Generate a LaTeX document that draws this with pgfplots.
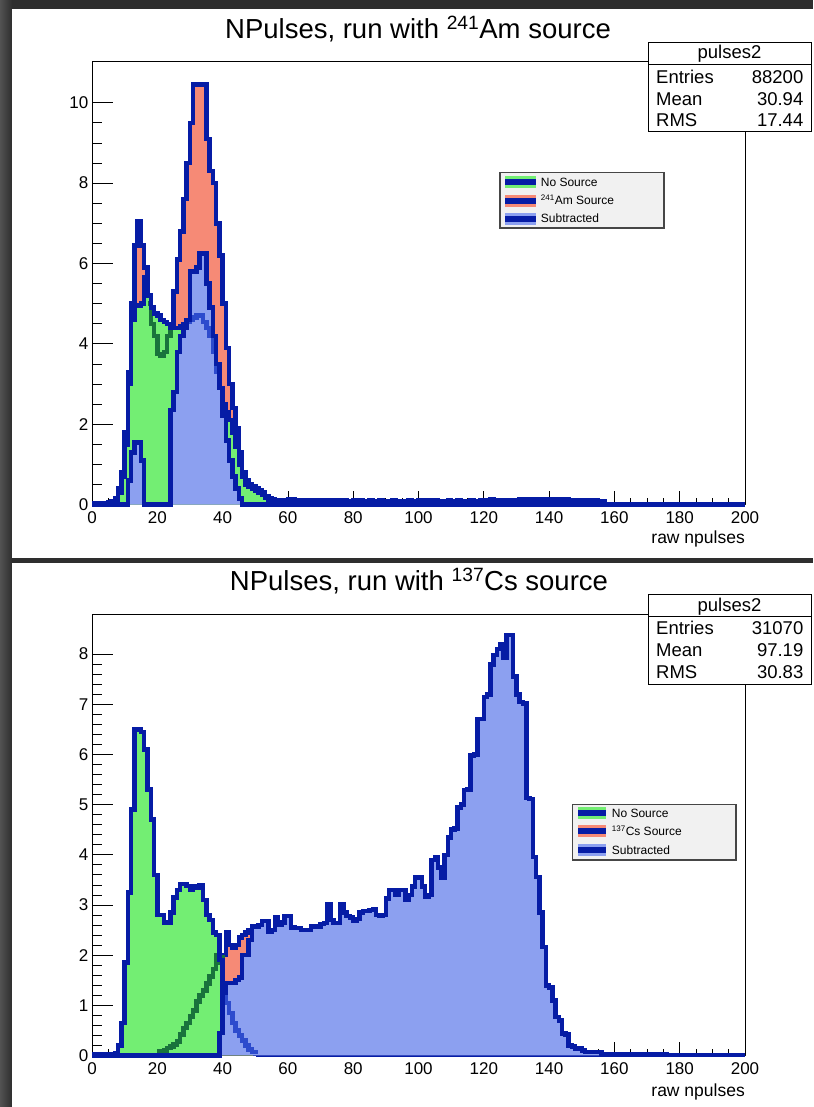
\documentclass[border=0pt]{standalone}
\usepackage{fontspec}
\setmainfont{Liberation Sans}
\usepackage{pgfplots}
\usepackage{pgfplotstable}
\pgfplotsset{compat=1.18}

\definecolor{hline}{RGB}{6,28,165}
\definecolor{nosrcc}{RGB}{115,238,115}
\definecolor{srcc}{RGB}{246,138,118}
\definecolor{subc}{RGB}{140,160,240}
\definecolor{undergreen}{RGB}{25,115,60}
\definecolor{underblue}{RGB}{45,75,205}
\definecolor{bgdark}{RGB}{46,46,46}
\definecolor{bgleft}{RGB}{82,82,82}
\definecolor{legbg}{RGB}{241,241,241}
\definecolor{legborder}{RGB}{70,70,70}

% 241Am run: bin lower edge, with source, without source, subtracted
\pgfplotstableread{
x src nosrc sub
0 0.03 0.03 0
1 0.03 0.03 0
2 0.03 0.03 0
3 0.03 0.03 0
4 0.04 0.03 0
5 0.06 0.04 0
6 0.08 0.05 0
7 0.15 0.10 0
8 0.40 0.30 0
9 0.80 0.70 0
10 1.80 1.50 0
11 3.30 3.00 0.60
12 5.00 4.60 1.30
13 6.45 4.95 1.55
14 7.05 4.95 1.55
15 6.45 5.00 1.10
16 5.90 5.65 0
17 5.00 5.20 0
18 4.50 4.90 0
19 4.20 4.75 0
20 3.75 4.70 0
21 3.70 4.60 0
22 3.80 4.55 0
23 4.20 4.50 0
24 4.45 4.40 2.35
25 5.30 4.40 2.80
26 6.10 4.40 3.80
27 6.80 4.45 4.20
28 7.60 4.50 4.40
29 8.50 4.55 4.60
30 9.50 4.60 5.80
31 10.45 4.65 5.80
32 10.45 4.70 5.90
33 10.45 4.70 6.25
34 10.45 4.55 6.25
35 9.10 4.40 5.50
36 8.30 4.20 4.90
37 8.00 3.80 4.20
38 7.00 3.30 3.50
39 6.20 2.90 2.90
40 5.00 2.50 2.20
41 3.90 2.30 1.60
42 3.00 2.10 1.10
43 2.40 1.80 0.70
44 1.90 1.45 0.40
45 1.30 1.00 0.15
46 0.80 0.70 0
47 0.60 0.50 0
48 0.50 0.45 0
49 0.45 0.40 0
50 0.40 0.35 0
51 0.35 0.30 0
52 0.30 0.25 0
53 0.20 0.18 0
54 0.17 0.13 0
55 0.13 0.10 0
56 0.10 0.07 0
57 0.09 0.06 0
58 0.10 0.05 0
59 0.12 0.05 0
60 0.14 0.06 0
61 0.13 0.05 0
62 0.10 0.05 0
63 0.11 0.05 0
64 0.10 0.05 0
65 0.09 0.05 0
66 0.11 0.05 0
67 0.12 0.05 0
68 0.10 0.05 0
69 0.09 0.05 0
70 0.12 0.05 0
71 0.11 0.05 0
72 0.09 0.05 0
73 0.10 0.05 0
74 0.08 0.04 0
75 0.10 0.04 0
76 0.12 0.04 0
77 0.10 0.04 0
78 0.09 0.04 0
79 0.08 0.04 0
80 0.10 0.04 0
81 0.09 0.04 0
82 0.10 0.04 0
83 0.08 0.04 0
84 0.09 0.04 0
85 0.10 0.04 0
86 0.08 0.04 0
87 0.09 0.04 0
88 0.11 0.04 0
89 0.09 0.04 0
90 0.08 0.04 0
91 0.09 0.04 0
92 0.10 0.04 0
93 0.08 0.04 0
94 0.09 0.04 0
95 0.08 0.04 0
96 0.09 0.04 0
97 0.10 0.04 0
98 0.08 0.04 0
99 0.09 0.04 0
100 0.11 0.04 0
101 0.12 0.04 0
102 0.11 0.04 0
103 0.10 0.04 0
104 0.12 0.04 0
105 0.10 0.04 0
106 0.09 0.04 0
107 0.08 0.04 0
108 0.09 0.04 0
109 0.10 0.04 0
110 0.09 0.04 0
111 0.08 0.04 0
112 0.10 0.04 0
113 0.09 0.04 0
114 0.08 0.04 0
115 0.09 0.04 0
116 0.10 0.04 0
117 0.09 0.04 0
118 0.08 0.04 0
119 0.10 0.04 0
120 0.11 0.04 0
121 0.12 0.04 0
122 0.13 0.04 0
123 0.11 0.04 0
124 0.10 0.04 0
125 0.11 0.04 0
126 0.10 0.04 0
127 0.11 0.04 0
128 0.12 0.04 0
129 0.11 0.04 0
130 0.12 0.04 0
131 0.13 0.04 0
132 0.12 0.04 0
133 0.13 0.04 0
134 0.12 0.04 0
135 0.13 0.04 0
136 0.14 0.04 0
137 0.13 0.04 0
138 0.14 0.04 0
139 0.13 0.04 0
140 0.14 0.04 0
141 0.13 0.04 0
142 0.12 0.04 0
143 0.13 0.04 0
144 0.12 0.04 0
145 0.13 0.04 0
146 0.12 0.04 0
147 0.11 0.04 0
148 0.12 0.04 0
149 0.11 0.04 0
150 0.10 0.03 0
151 0.11 0.03 0
152 0.10 0.03 0
153 0.09 0.03 0
154 0.10 0.03 0
155 0.09 0.03 0
156 0.08 0.03 0
157 0.01 0.01 0
158 0.01 0.01 0
159 0.01 0.01 0
160 0.01 0.01 0
161 0.01 0.01 0
162 0.01 0.01 0
163 0.01 0.01 0
164 0.01 0.01 0
165 0.01 0.01 0
166 0.01 0.01 0
167 0.01 0.01 0
168 0.01 0.01 0
169 0.01 0.01 0
170 0.01 0.01 0
171 0.01 0.01 0
172 0.01 0.01 0
173 0.01 0.01 0
174 0.01 0.01 0
175 0.01 0.01 0
176 0.01 0.01 0
177 0.01 0.01 0
178 0.01 0.01 0
179 0.01 0.01 0
180 0.01 0.01 0
181 0.01 0.01 0
182 0.01 0.01 0
183 0.01 0.01 0
184 0.01 0.01 0
185 0.01 0.01 0
186 0.01 0.01 0
187 0.01 0.01 0
188 0.01 0.01 0
189 0.01 0.01 0
190 0.01 0.01 0
191 0.01 0.01 0
192 0.01 0.01 0
193 0.01 0.01 0
194 0.01 0.01 0
195 0.01 0.01 0
196 0.01 0.01 0
197 0.01 0.01 0
198 0.01 0.01 0
199 0.01 0.01 0
200 0.01 0.01 0
}\amdata

% 137Cs run: bin lower edge, with source, without source, subtracted
\pgfplotstableread{
x src nosrc sub
0 0.02 0.02 0
1 0.02 0.02 0
2 0.02 0.02 0
3 0.02 0.02 0
4 0.02 0.02 0
5 0.02 0.02 0
6 0.02 0.03 0
7 0.02 0.05 0
8 0.02 0.20 0
9 0.02 0.65 0
10 0.02 1.85 0
11 0.02 3.25 0
12 0.03 4.90 0
13 0.03 6.50 0
14 0.03 6.50 0
15 0.04 6.45 0
16 0.05 6.10 0
17 0.05 5.30 0
18 0.06 4.70 0
19 0.06 3.60 0
20 0.08 2.80 0
21 0.08 2.80 0
22 0.10 2.65 0
23 0.15 2.65 0
24 0.18 2.85 0
25 0.22 3.15 0
26 0.28 3.30 0
27 0.42 3.42 0
28 0.55 3.42 0
29 0.65 3.38 0
30 0.78 3.30 0
31 0.90 3.38 0
32 1.08 3.35 0
33 1.20 3.40 0
34 1.30 3.10 0
35 1.44 2.80 0
36 1.57 2.70 0
37 1.72 2.45 0
38 2.00 2.40 0
39 1.85 1.90 0.45
40 2.00 1.25 1.25
41 2.45 1.05 1.45
42 2.20 0.85 1.45
43 2.15 0.65 1.45
44 2.20 0.50 1.50
45 2.35 0.40 1.55
46 2.40 0.30 2.00
47 2.45 0.20 2.00
48 2.50 0.12 2.30
49 2.57 0.07 2.57
50 2.57 0.03 2.57
51 2.60 0.02 2.60
52 2.68 0.02 2.68
53 2.68 0.02 2.68
54 2.47 0.02 2.47
55 2.50 0.02 2.50
56 2.75 0.02 2.75
57 2.60 0.02 2.60
58 2.65 0.02 2.65
59 2.78 0.02 2.78
60 2.78 0.02 2.78
61 2.55 0.02 2.55
62 2.54 0.02 2.54
63 2.54 0.02 2.54
64 2.50 0.02 2.50
65 2.50 0.02 2.50
66 2.50 0.02 2.50
67 2.57 0.02 2.57
68 2.57 0.02 2.57
69 2.57 0.02 2.57
70 2.62 0.02 2.62
71 2.64 0.02 2.64
72 3.02 0.02 3.02
73 2.70 0.02 2.70
74 2.64 0.02 2.64
75 2.64 0.02 2.64
76 3.02 0.02 3.02
77 2.85 0.02 2.85
78 2.78 0.02 2.78
79 2.75 0.02 2.75
80 2.68 0.02 2.68
81 2.72 0.02 2.72
82 2.85 0.02 2.85
83 2.88 0.02 2.88
84 2.88 0.02 2.88
85 2.90 0.02 2.90
86 2.92 0.02 2.92
87 2.80 0.02 2.80
88 2.78 0.02 2.78
89 2.80 0.02 2.80
90 3.13 0.02 3.13
91 3.30 0.02 3.30
92 3.30 0.02 3.30
93 3.20 0.02 3.20
94 3.30 0.02 3.30
95 3.30 0.02 3.30
96 3.10 0.02 3.10
97 3.20 0.02 3.20
98 3.37 0.02 3.37
99 3.55 0.02 3.55
100 3.55 0.02 3.55
101 3.37 0.02 3.37
102 3.16 0.02 3.16
103 3.20 0.02 3.20
104 3.90 0.02 3.90
105 3.95 0.02 3.95
106 3.75 0.02 3.75
107 3.55 0.02 3.55
108 4.00 0.02 4.00
109 4.35 0.02 4.35
110 4.50 0.02 4.50
111 4.52 0.02 4.52
112 4.94 0.02 4.94
113 5.00 0.02 5.00
114 5.29 0.02 5.29
115 5.30 0.02 5.30
116 5.98 0.02 5.98
117 6.00 0.02 6.00
118 6.71 0.02 6.71
119 6.71 0.02 6.71
120 7.15 0.02 7.15
121 7.20 0.02 7.20
122 7.79 0.02 7.79
123 7.98 0.02 7.98
124 8.10 0.02 8.10
125 8.20 0.02 8.20
126 7.93 0.02 7.93
127 8.38 0.02 8.38
128 8.38 0.02 8.38
129 7.55 0.02 7.55
130 7.20 0.02 7.20
131 7.05 0.02 7.05
132 7.02 0.02 7.02
133 5.13 0.02 5.13
134 5.11 0.02 5.11
135 3.96 0.02 3.96
136 3.56 0.02 3.56
137 2.85 0.02 2.85
138 2.16 0.02 2.16
139 1.40 0.02 1.40
140 1.36 0.02 1.36
141 1.10 0.02 1.10
142 0.77 0.02 0.77
143 0.70 0.02 0.70
144 0.44 0.02 0.44
145 0.42 0.02 0.42
146 0.20 0.02 0.20
147 0.18 0.02 0.18
148 0.14 0.02 0.14
149 0.14 0.02 0.14
150 0.10 0.02 0.10
151 0.07 0.02 0.07
152 0.07 0.02 0.07
153 0.07 0.02 0.07
154 0.07 0.02 0.07
155 0.07 0.02 0.07
156 0.03 0.02 0.03
157 0.03 0.02 0.03
158 0.03 0.02 0.03
159 0.03 0.02 0.03
160 0.03 0.02 0.03
161 0.03 0.01 0.03
162 0.03 0.01 0.03
163 0.03 0.01 0.03
164 0.03 0.01 0.03
165 0.03 0.01 0.03
166 0.03 0.01 0.03
167 0.03 0.01 0.03
168 0.03 0.01 0.03
169 0.03 0.01 0.03
170 0.03 0.01 0.03
171 0.03 0.01 0.03
172 0.03 0.01 0.03
173 0.03 0.01 0.03
174 0.03 0.01 0.03
175 0.03 0.01 0.03
176 0.01 0.01 0.01
177 0.01 0.01 0.01
178 0.01 0.01 0.01
179 0.01 0.01 0.01
180 0.01 0.01 0.01
181 0.01 0.01 0.01
182 0.01 0.01 0.01
183 0.01 0.01 0.01
184 0.01 0.01 0.01
185 0.01 0.01 0.01
186 0.01 0.01 0.01
187 0.01 0.01 0.01
188 0.01 0.01 0.01
189 0.01 0.01 0.01
190 0.01 0.01 0.01
191 0.01 0.01 0.01
192 0.01 0.01 0.01
193 0.01 0.01 0.01
194 0.01 0.01 0.01
195 0.01 0.01 0.01
196 0.01 0.01 0.01
197 0.01 0.01 0.01
198 0.01 0.01 0.01
199 0.01 0.01 0.01
200 0.01 0.01 0.01
}\csdata

\pgfplotsset{
  histline/.style={const plot mark left, mark=none, draw=hline, line width=4.5pt, line join=miter},
  histfill/.style={const plot mark left, mark=none, draw=none, fill=#1},
  seenline/.style={const plot mark left, mark=none, draw=#1, line width=4.5pt, line join=miter},
  panel/.style={
    scale only axis, width=653pt, xmin=0, xmax=200, ymin=0,
    tick align=inside, xtick pos=left, ytick pos=left,
    /pgf/number format/assume math mode=true,
    tick label style={font=\fontsize{17}{20}\selectfont},
    every tick/.style={black, line width=0.8pt},
  },
  xtickaxis/.style={
    panel, axis line style={draw=none}, ytick=\empty,
    xtick={0,20,...,200}, minor x tick num=3,
    major tick length=13.6pt, minor tick length=6.5pt,
    xticklabel style={inner sep=0pt, yshift=-7pt},
  },
  dataaxis/.style={
    panel, axis line style={black, line width=0.8pt}, xtick=\empty,
    major tick length=20.7pt, minor tick length=10pt, clip=false,
    yticklabel style={inner sep=0pt, xshift=-3.5pt},
  },
}

\begin{document}
\begin{tikzpicture}[x=1pt,y=1pt]
\useasboundingbox (0,0) rectangle (813,1107);
\fill[bgdark] (0,0) rectangle (813,1107);
\shade[left color=bgleft, right color=bgdark] (0,0) rectangle (12,1107);
\fill[white] (12,549) rectangle (813,1098);
\fill[white] (12,0) rectangle (813,544);

% ---------- 241Am panel ----------
\begin{axis}[xtickaxis, at={(92pt,602.4pt)}, anchor=south west, height=442.8pt, ymax=11.02]
\end{axis}
\begin{axis}[dataaxis, at={(92pt,602.4pt)}, anchor=south west, height=442.8pt, ymax=11.02,
  ytick={0,2,...,10}, minor y tick num=3]
  \addplot[histfill=srcc] table[x=x,y=src]{\amdata} \closedcycle;
  \addplot[histline] table[x=x,y=src]{\amdata};
  \addplot[histfill=nosrcc] table[x=x,y=nosrc]{\amdata} \closedcycle;
  \addplot[seenline=undergreen, restrict x to domain=17:24] table[x=x,y=src]{\amdata};
  \addplot[histline] table[x=x,y=nosrc]{\amdata};
  \addplot[histfill=subc] table[x=x,y=sub]{\amdata} \closedcycle;
  \addplot[seenline=underblue, restrict x to domain=29:39] table[x=x,y=nosrc]{\amdata};
  \addplot[histline] table[x=x,y=sub]{\amdata};
\end{axis}

\node[font=\fontsize{27.5}{31}\selectfont] at (418,1078.4) {NPulses, run with \textsuperscript{241}Am source};
\node[anchor=north east, inner sep=0pt, font=\fontsize{17.5}{20}\selectfont] at (745,576.6) {raw npulses};

% statistics box
\filldraw[fill=white, draw=black, line width=0.9pt] (648,976) rectangle (811,1065);
\draw[black, line width=0.9pt] (648,1042.4) -- (811,1042.4);
\begin{scope}[font=\fontsize{18.5}{21}\selectfont, inner sep=0pt]
  \node[anchor=base] at (729.5,1048) {pulses2};
  \node[anchor=base west] at (656,1023.8) {Entries};
  \node[anchor=base east] at (803.5,1023.8) {88200};
  \node[anchor=base west] at (656,1001.6) {Mean};
  \node[anchor=base east] at (803.5,1001.6) {30.94};
  \node[anchor=base west] at (656,980.2) {RMS};
  \node[anchor=base east] at (803.5,980.2) {17.44};
\end{scope}

% legend
\filldraw[fill=legbg, draw=legborder, line width=1.3pt] (500,879) rectangle (664,934.5);
\foreach \c/\yy in {nosrcc/925, srcc/906.3, subc/888.4}{
  \fill[\c] (505.4,\yy-6) rectangle (535.5,\yy+6);
  \draw[hline, line width=6pt] (505.4,\yy) -- (535.5,\yy);
}
\begin{scope}[font=\fontsize{12}{14}\selectfont, inner sep=0pt]
  \node[anchor=base west] at (540.7,920.7) {No Source};
  \node[anchor=base west] at (540.7,902) {\textsuperscript{241}Am Source};
  \node[anchor=base west] at (540.7,884.1) {Subtracted};
\end{scope}

% ---------- 137Cs panel ----------
\begin{axis}[xtickaxis, at={(92pt,51.5pt)}, anchor=south west, height=441.5pt, ymax=8.8]
\end{axis}
\begin{axis}[dataaxis, at={(92pt,51.5pt)}, anchor=south west, height=441.5pt, ymax=8.8,
  ytick={0,1,...,8}, minor y tick num=4]
  \addplot[histfill=srcc] table[x=x,y=src]{\csdata} \closedcycle;
  \addplot[histline] table[x=x,y=src]{\csdata};
  \addplot[histfill=nosrcc] table[x=x,y=nosrc]{\csdata} \closedcycle;
  \addplot[seenline=undergreen, restrict x to domain=20:40] table[x=x,y=src]{\csdata};
  \addplot[histline] table[x=x,y=nosrc]{\csdata};
  \addplot[histfill=subc] table[x=x,y=sub]{\csdata} \closedcycle;
  \addplot[seenline=underblue, restrict x to domain=40:50] table[x=x,y=nosrc]{\csdata};
  \addplot[histline] table[x=x,y=sub]{\csdata};
\end{axis}

\node[font=\fontsize{27.5}{31}\selectfont] at (419,526) {NPulses, run with \textsuperscript{137}Cs source};
\node[anchor=north east, inner sep=0pt, font=\fontsize{17.5}{20}\selectfont] at (745,23.6) {raw npulses};

\filldraw[fill=white, draw=black, line width=0.9pt] (648,423) rectangle (811,513);
\draw[black, line width=0.9pt] (648,490.5) -- (811,490.5);
\begin{scope}[font=\fontsize{18.5}{21}\selectfont, inner sep=0pt]
  \node[anchor=base] at (729.5,495.4) {pulses2};
  \node[anchor=base west] at (656,472) {Entries};
  \node[anchor=base east] at (803.5,472) {31070};
  \node[anchor=base west] at (656,450.4) {Mean};
  \node[anchor=base east] at (803.5,450.4) {97.19};
  \node[anchor=base west] at (656,428.4) {RMS};
  \node[anchor=base east] at (803.5,428.4) {30.83};
\end{scope}

\filldraw[fill=legbg, draw=legborder, line width=1.3pt] (572.3,247) rectangle (736.1,302.8);
\foreach \c/\yy in {nosrcc/294, srcc/275.5, subc/256.7}{
  \fill[\c] (578,\yy-6) rectangle (605.5,\yy+6);
  \draw[hline, line width=6pt] (578,\yy) -- (605.5,\yy);
}
\begin{scope}[font=\fontsize{12}{14}\selectfont, inner sep=0pt]
  \node[anchor=base west] at (611.7,289.7) {No Source};
  \node[anchor=base west] at (611.7,271.2) {\textsuperscript{137}Cs Source};
  \node[anchor=base west] at (611.7,252.4) {Subtracted};
\end{scope}
\end{tikzpicture}
\end{document}
